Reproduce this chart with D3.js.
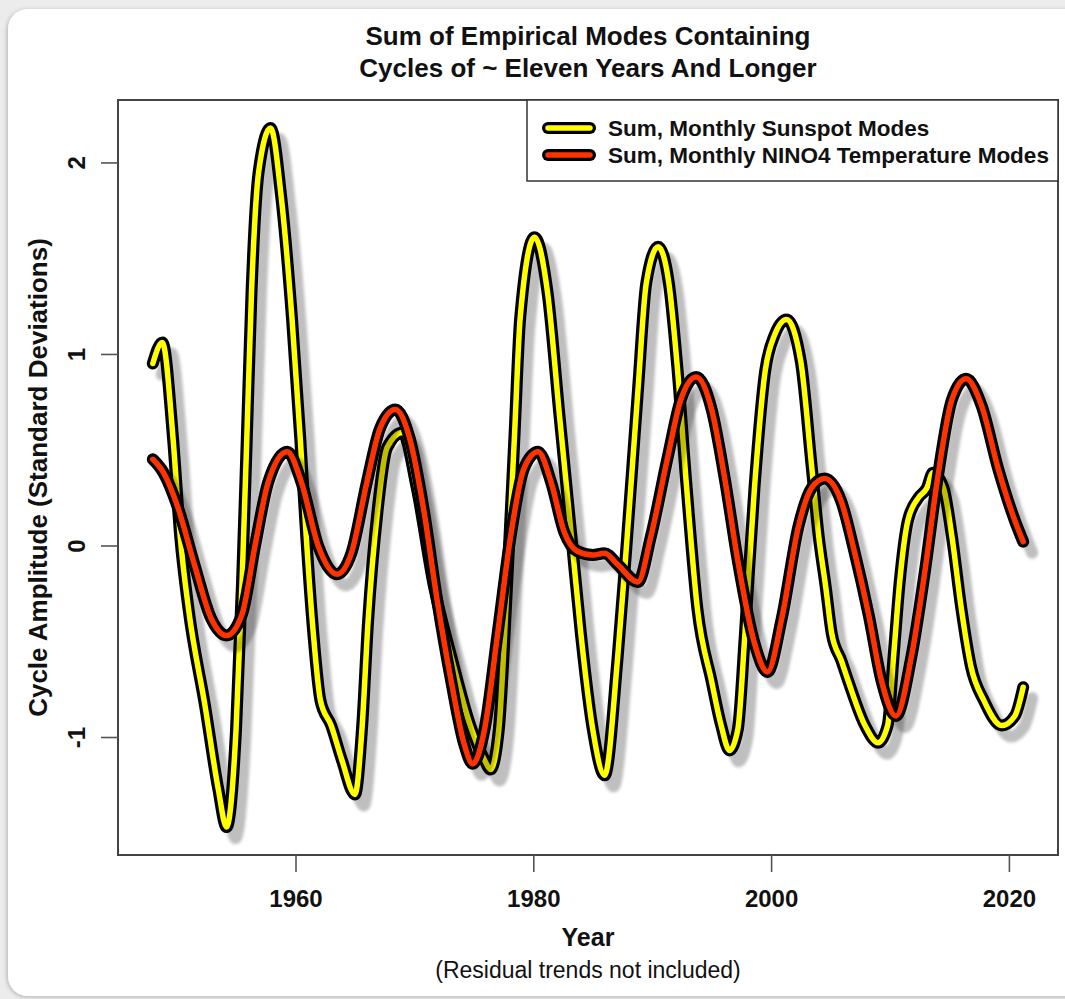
<!DOCTYPE html>
<html>
<head>
<meta charset="utf-8">
<script src="https://cdn.jsdelivr.net/npm/d3@7"></script>
<style>
  body { margin: 0; background: #ececec; }
  svg { display: block; }
  text { font-family: "Liberation Sans", Arial, sans-serif; fill: #111; }
</style>
</head>
<body>
<svg id="chart" width="1065" height="999"></svg>
<script>
// Sum of empirical modes (standard deviations)
var sunspotYears = [1948.0, 1948.8, 1949.7, 1950.3, 1951.0, 1952.4, 1953.5, 1954.2, 1955.0, 1955.5,
        1955.9, 1956.3, 1956.9, 1957.9, 1958.8, 1959.7, 1960.4, 1960.9, 1961.5, 1962.1,
        1963.0, 1963.9, 1965.0, 1965.6, 1966.1, 1966.9, 1967.7, 1969.0, 1970.2, 1971.6,
        1973.1, 1974.7, 1975.9, 1976.4, 1977.1, 1977.8, 1978.4, 1978.9, 1980.1, 1981.2,
        1982.2, 1983.2, 1984.0, 1985.0, 1986.0, 1987.1, 1987.9, 1988.8, 1989.5, 1990.5,
        1991.4, 1992.1, 1992.9, 1993.8, 1995.0, 1995.8, 1996.5, 1997.2, 1997.8, 1998.6,
        1999.5, 2000.3, 2001.3, 2002.5, 2003.4, 2004.0, 2004.6, 2005.1, 2005.9, 2006.5,
        2007.9, 2009.0, 2009.8, 2010.3, 2010.8, 2011.5, 2012.4, 2013.1, 2013.6, 2014.5,
        2015.2, 2016.0, 2016.8, 2017.9, 2019.4, 2020.5, 2021.2]
var sunspotValues = [0.95, 1.06, 0.56, 0.05, -0.33, -0.84, -1.27, -1.47, -0.96, -0.20,
        0.55, 1.32, 1.95, 2.18, 1.82, 1.19, 0.56, 0.05, -0.46, -0.81,
        -0.94, -1.12, -1.30, -0.95, -0.40, 0.18, 0.51, 0.59, 0.30, -0.20,
        -0.58, -0.94, -1.12, -1.17, -0.96, -0.20, 0.55, 1.19, 1.61, 1.32,
        0.68, 0.05, -0.46, -0.96, -1.20, -0.58, 0.05, 0.81, 1.37, 1.56,
        1.37, 0.94, 0.30, -0.33, -0.71, -0.94, -1.07, -0.96, -0.46, 0.30,
        0.91, 1.10, 1.18, 0.96, 0.42, 0.05, -0.22, -0.46, -0.60, -0.71,
        -0.94, -1.03, -0.94, -0.58, -0.20, 0.13, 0.25, 0.30, 0.38, 0.30,
        0.05, -0.33, -0.63, -0.81, -0.94, -0.89, -0.74]

var ninoYears = [1948.0, 1948.9, 1950.1, 1951.5, 1952.9, 1954.2, 1955.5, 1956.6, 1957.7, 1959.3,
        1960.5, 1961.9, 1963.5, 1964.7, 1966.0, 1967.1, 1968.4, 1969.6, 1970.8, 1971.9,
        1973.1, 1974.2, 1974.9, 1975.9, 1977.0, 1978.1, 1979.2, 1980.4, 1981.5, 1982.6,
        1983.7, 1985.0, 1986.0, 1987.1, 1988.8, 1989.9, 1991.3, 1992.4, 1993.7, 1995.0,
        1996.1, 1997.2, 1998.6, 1999.7, 2000.9, 2002.3, 2003.4, 2004.5, 2005.9, 2007.0,
        2008.2, 2009.3, 2010.5, 2011.8, 2012.9, 2014.0, 2015.2, 2016.4, 2017.7, 2019.1,
        2020.5, 2021.2]
var ninoValues = [0.45, 0.38, 0.20, -0.10, -0.38, -0.47, -0.36, 0.0, 0.33, 0.49,
        0.33, 0.0, -0.15, -0.04, 0.33, 0.61, 0.71, 0.56, 0.18, -0.28,
        -0.71, -1.04, -1.14, -0.96, -0.46, 0.05, 0.40, 0.49, 0.33, 0.07,
        -0.03, -0.05, -0.04, -0.10, -0.19, 0.05, 0.46, 0.76, 0.88, 0.71,
        0.35, -0.08, -0.51, -0.66, -0.38, 0.10, 0.30, 0.35, 0.23, -0.03,
        -0.36, -0.71, -0.89, -0.58, -0.15, 0.35, 0.76, 0.87, 0.73, 0.40,
        0.13, 0.02]

var seriesNames = ["Sum, Monthly Sunspot Modes", "Sum, Monthly NINO4 Temperature Modes"]
var seriesColors = ["#ffff00", "#ff3300"]
var xTicks = [1960, 1980, 2000, 2020]
var yTicks = [-1, 0, 1, 2]

var titleLines = ["Sum of Empirical Modes Containing", "Cycles of ~ Eleven Years And Longer"]
var xTitle = "Year"
var xSubtitle = "(Residual trends not included)"
var yTitle = "Cycle Amplitude (Standard Deviations)"

;(function (d3) {

        "use strict";

        var svg = d3.select('#chart')
        var box = { left: 118, right: 1058, top: 100, bottom: 855 }

        // R style axis range: data extent padded by 4% each side
        function padded(extent) {
                var d = (extent[1] - extent[0]) * 0.04
                return [extent[0] - d, extent[1] + d]
        }

        var series = [
                { years: sunspotYears, values: sunspotValues },
                { years: ninoYears, values: ninoValues }
        ].map(function (s, i) {
                return {
                        name: seriesNames[i],
                        color: seriesColors[i],
                        points: s.years.map(function (yr, j) { return [yr, s.values[j]] })
                }
        })

        var allPoints = d3.merge(series.map(function (s) { return s.points }))

        var x = d3.scaleLinear()
                .domain(padded(d3.extent(allPoints, function (p) { return p[0] })))
                .range([box.left, box.right])
        var y = d3.scaleLinear()
                .domain(padded(d3.extent(allPoints, function (p) { return p[1] })))
                .range([box.bottom, box.top])

        // card behind the figure
        var defs = svg.append('defs')
        defs.append('filter').attr('id', 'blur')
                .attr('x', '-10%').attr('y', '-10%').attr('width', '120%').attr('height', '120%')
                .append('feGaussianBlur').attr('stdDeviation', 1.8)
        defs.append('filter').attr('id', 'card-shadow')
                .append('feDropShadow')
                .attr('dx', -1).attr('dy', 1).attr('stdDeviation', 2)
                .attr('flood-color', '#000').attr('flood-opacity', 0.25)
        defs.append('clipPath').attr('id', 'plot-clip')
                .append('rect')
                .attr('x', box.left).attr('y', box.top)
                .attr('width', box.right - box.left).attr('height', box.bottom - box.top)

        svg.append('rect')
                .attr('x', 8).attr('y', 9)
                .attr('width', 1085).attr('height', 987)
                .attr('rx', 20)
                .attr('fill', '#fff')
                .attr('filter', 'url(#card-shadow)')

        // titles
        svg.append('g')
                .selectAll('text')
                .data(titleLines)
                .enter()
                .append('text')
                .attr('x', (box.left + box.right) / 2)
                .attr('y', function (d, i) { return 45 + i * 32 })
                .attr('text-anchor', 'middle')
                .attr('font-size', 26)
                .attr('font-weight', 'bold')
                .text(function (d) { return d })

        // lines: shadow, black outline, coloured core
        var line = d3.line()
                .x(function (d) { return x(d[0]) })
                .y(function (d) { return y(d[1]) })
                .curve(d3.curveMonotoneX)

        var plot = svg.append('g').attr('clip-path', 'url(#plot-clip)')

        series.forEach(function (s) {
                var g = plot.append('g')
                g.append('path')
                        .attr('d', line(s.points))
                        .attr('transform', 'translate(9,11)')
                        .attr('fill', 'none')
                        .attr('stroke', 'rgba(0,0,0,0.25)')
                        .attr('stroke-width', 12)
                        .attr('stroke-linecap', 'round')
                        .attr('stroke-linejoin', 'round')
                        .attr('filter', 'url(#blur)')
                g.append('path')
                        .attr('d', line(s.points))
                        .attr('fill', 'none')
                        .attr('stroke', '#000')
                        .attr('stroke-width', 12)
                        .attr('stroke-linecap', 'round')
                        .attr('stroke-linejoin', 'round')
                g.append('path')
                        .attr('d', line(s.points))
                        .attr('fill', 'none')
                        .attr('stroke', s.color)
                        .attr('stroke-width', 5.5)
                        .attr('stroke-linecap', 'round')
                        .attr('stroke-linejoin', 'round')
        })

        // plot box
        svg.append('rect')
                .attr('x', box.left).attr('y', box.top)
                .attr('width', box.right - box.left).attr('height', box.bottom - box.top)
                .attr('fill', 'none')
                .attr('stroke', '#444')
                .attr('stroke-width', 2)

        // axes, labels with a plain hyphen like R draws them
        var fmt = function (d) { return String(d) }
        var xAxis = svg.append('g')
                .attr('transform', 'translate(0,' + box.bottom + ')')
                .call(d3.axisBottom(x).tickValues(xTicks).tickFormat(fmt).tickSize(17).tickPadding(18))
        var yAxis = svg.append('g')
                .attr('transform', 'translate(' + box.left + ',0)')
                .call(d3.axisLeft(y).tickValues(yTicks).tickFormat(fmt).tickSize(17))

        ;[xAxis, yAxis].forEach(function (a) {
                a.select('.domain').remove()
                a.selectAll('.tick line').attr('stroke', '#555').attr('stroke-width', 1.6)
                a.selectAll('.tick text')
                        .attr('font-family', '"Liberation Sans", Arial, sans-serif')
                        .attr('font-size', 24)
                        .attr('font-weight', 'bold')
                        .attr('fill', '#111')
        })

        // y tick labels run parallel to the axis
        yAxis.selectAll('.tick text')
                .attr('x', null).attr('dy', null)
                .attr('text-anchor', 'middle')
                .attr('transform', 'translate(-42,0) rotate(-90) translate(0,9)')

        svg.append('text')
                .attr('x', (box.left + box.right) / 2).attr('y', 946)
                .attr('text-anchor', 'middle')
                .attr('font-size', 25)
                .attr('font-weight', 'bold')
                .text(xTitle)
        svg.append('text')
                .attr('x', (box.left + box.right) / 2).attr('y', 978)
                .attr('text-anchor', 'middle')
                .attr('font-size', 23)
                .attr('fill', '#222')
                .text(xSubtitle)
        svg.append('text')
                .attr('transform', 'translate(47,' + (box.top + box.bottom) / 2 + ') rotate(-90)')
                .attr('text-anchor', 'middle')
                .attr('font-size', 26)
                .attr('font-weight', 'bold')
                .text(yTitle)

        // legend, top right corner
        var legend = svg.append('g')
        legend.append('rect')
                .attr('x', 527).attr('y', box.top)
                .attr('width', box.right - 527).attr('height', 81)
                .attr('fill', '#fff')
                .attr('stroke', '#333')
                .attr('stroke-width', 1.5)

        var items = legend.selectAll('g.item')
                .data(series)
                .enter()
                .append('g')
                .attr('class', 'item')
                .attr('transform', function (d, i) { return 'translate(0,' + (128 + i * 27) + ')' })

        items.append('line')
                .attr('x1', 548).attr('x2', 590)
                .attr('stroke', '#000').attr('stroke-width', 12)
                .attr('stroke-linecap', 'round')
        items.append('line')
                .attr('x1', 548).attr('x2', 590)
                .attr('stroke', function (d) { return d.color }).attr('stroke-width', 5.5)
                .attr('stroke-linecap', 'round')
        items.append('text')
                .attr('x', 608).attr('dy', '0.35em')
                .attr('font-size', 22.5)
                .attr('font-weight', 'bold')
                .text(function (d) { return d.name })

})(d3);
</script>
</body>
</html>
